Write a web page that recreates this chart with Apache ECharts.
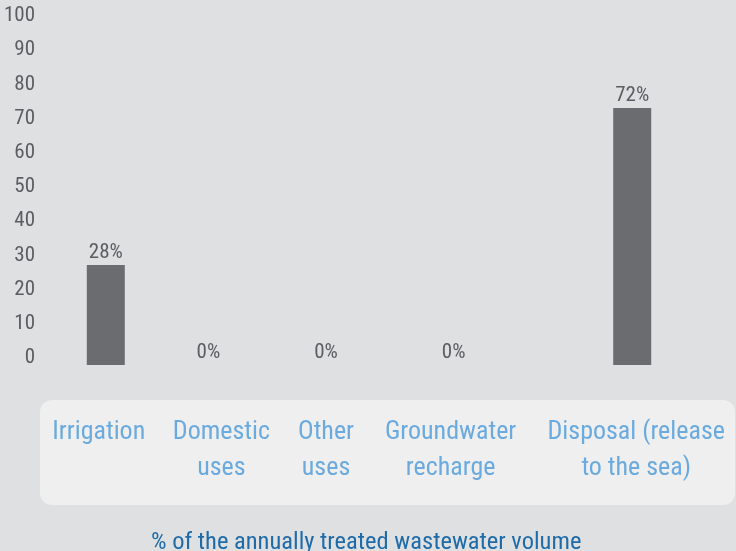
<!DOCTYPE html>
<html><head><meta charset="utf-8">
<script src="https://cdn.jsdelivr.net/npm/echarts@6/dist/echarts.min.js"></script>
<style>html,body{margin:0;padding:0;background:#dfe0e2;}#c{width:736px;height:551px;}</style>
</head><body><div id="c"></div>
<script>
const categories = ['Irrigation', 'Domestic\nuses', 'Other\nuses', 'Groundwater\nrecharge', 'Disposal (release\nto the sea)'];
const values = [28, 0, 0, 0, 72];
const yTicks = [0, 10, 20, 30, 40, 50, 60, 70, 80, 90, 100];
const titleText = '% of the annually treated wastewater volume';

// layout only: horizontal nudges (px) of the text under each category, as in the source layout
const categoryTextNudge = [-7, -16, -43, -50, 4];
const valueTextNudge = [0, -29, -43, -47, 0];

const FONT = '"Roboto Condensed", "DejaVu Sans Condensed", sans-serif';
const rich = {};
categoryTextNudge.forEach((s, i) => {
  rich['c' + i] = {
    color: '#6aaade', fontFamily: FONT, fontSize: 26, lineHeight: 36,
    padding: s < 0 ? [0, -2 * s, 0, 0] : [0, 0, 0, 2 * s]
  };
});

const chart = echarts.init(document.getElementById('c'));
chart.setOption({
  backgroundColor: '#dfe0e2',
  animation: false,
  title: {
    text: titleText, left: 146, top: 525,
    textStyle: { color: '#1f6ba8', fontFamily: FONT, fontSize: 24.5, fontWeight: 'normal' }
  },
  graphic: [{
    type: 'rect', z: -1, silent: true,
    shape: { x: 40, y: 400, width: 695, height: 105, r: 12 },
    style: { fill: '#efefef' }
  }],
  grid: [
    { left: 40, right: 38, top: 16, bottom: 551 - 358 },
    { left: 40, right: 38, top: 8, bottom: 551 - 365 }
  ],
  xAxis: [
    { gridIndex: 0, type: 'category', data: categories, show: false },
    {
      gridIndex: 1, type: 'category', data: categories,
      axisLine: { show: false }, axisTick: { show: false },
      axisLabel: {
        margin: 49, interval: 0, lineHeight: 36, fontSize: 26, fontFamily: FONT,
        formatter: (val, idx) => val.split('\n').map(t => '{c' + idx + '|' + t + '}').join('\n'),
        rich: rich
      }
    }
  ],
  yAxis: [
    {
      gridIndex: 0, type: 'value', min: yTicks[0], max: yTicks[yTicks.length - 1], interval: 10,
      splitLine: { show: false }, axisLine: { show: false }, axisTick: { show: false },
      axisLabel: { margin: 5, color: '#5c5d60', fontFamily: FONT, fontSize: 21 }
    },
    { gridIndex: 1, type: 'value', min: 0, max: 100, show: false, splitLine: { show: false } }
  ],
  series: [{
    type: 'bar', xAxisIndex: 1, yAxisIndex: 1, barWidth: 38,
    data: values.map((v, i) => ({ value: v, label: { offset: [valueTextNudge[i], 0] } })),
    itemStyle: { color: '#6b6c70' },
    label: {
      show: true, position: 'top', distance: 2, formatter: '{c}%',
      color: '#5c5d60', fontFamily: FONT, fontSize: 21
    }
  }]
});
</script></body></html>
